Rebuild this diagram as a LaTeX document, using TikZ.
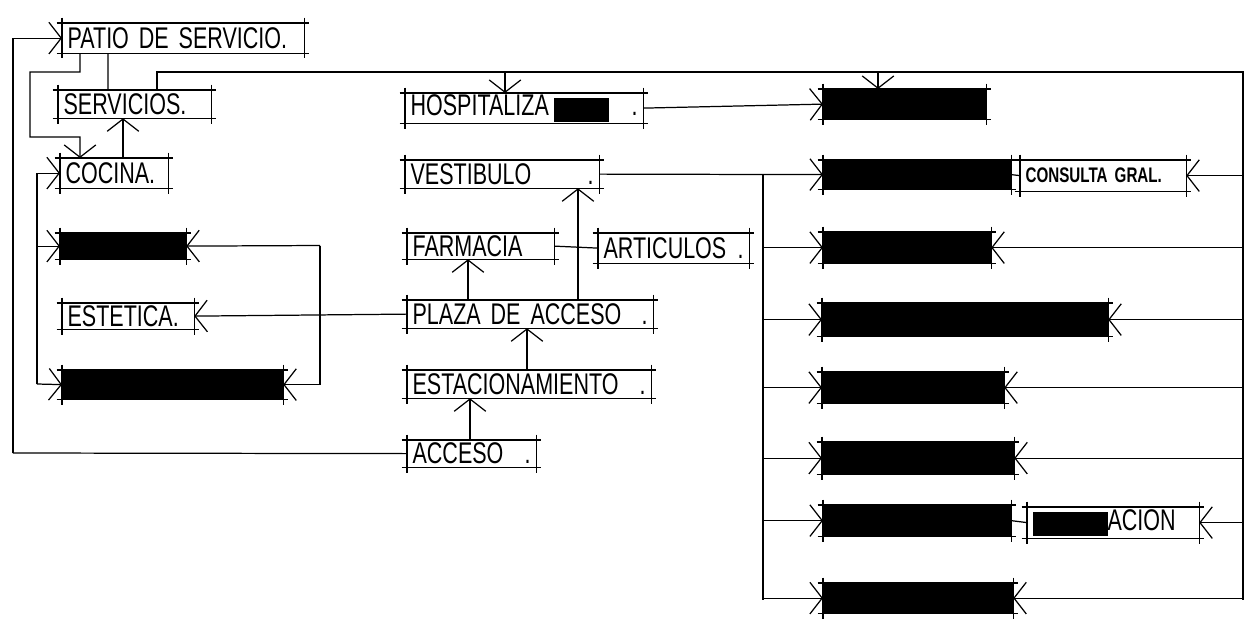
\documentclass[tikz,border=0pt]{standalone}
\usepackage{fontspec}
\newfontfamily\mano[FakeStretch=0.72]{Liberation Sans}
\usetikzlibrary{arrows.meta}

\begin{document}
\begin{tikzpicture}[x=0.02cm,y=-0.02cm,line width=0.7pt,>={Straight Barb[length=7pt,width=18pt]},
  sala/.style={anchor=north west,inner xsep=0.1cm,inner ysep=0pt,align=left,font=\mano\fontsize{17}{17}\selectfont},
  negro/.style={anchor=north west,fill=black,inner sep=0pt}]
\useasboundingbox (0,0) rectangle (1254,626);
\node[sala,text width=4.62cm,minimum height=0.58cm] (patio) at (62,23) {PATIO DE SERVICIO.};
\node[sala,text width=2.84cm,minimum height=0.54cm] (servicios) at (58,90) {SERVICIOS.};
\node[sala,text width=1.94cm,minimum height=0.58cm] (cocina) at (60,158) {COCINA.};
\node[negro,minimum width=2.5cm,minimum height=0.5cm] (izq1) at (60,233) {};
\node[sala,text width=2.42cm,minimum height=0.5cm] (estetica) at (62,303) {ESTETICA.};
\node[negro,minimum width=4.4cm,minimum height=0.56cm] (izq3) at (62,370) {};
\node[sala,text width=4.54cm,minimum height=0.58cm] (hosp) at (405,93) {HOSPITALIZA\,\rule[-0.12cm]{1.1cm}{0.48cm}\hfill.};
\node[sala,text width=3.66cm,minimum height=0.54cm] (vest) at (405,160) {VESTIBULO\hfill.};
\node[sala,text width=2.72cm,minimum height=0.5cm] (farm) at (407,233) {FARMACIA};
\node[sala,text width=2.8cm,minimum height=0.58cm] (art) at (598,233) {ARTICULOS\hfill.};
\node[sala,text width=4.7cm,minimum height=0.54cm] (plaza) at (407,300) {PLAZA DE ACCESO\hfill.};
\node[sala,text width=4.66cm,minimum height=0.54cm] (estac) at (407,370) {ESTACIONAMIENTO\hfill.};
\node[sala,text width=2.36cm,minimum height=0.52cm] (acceso) at (407,440) {ACCESO\hfill.};
\node[negro,minimum width=3.24cm,minimum height=0.58cm] (r1) at (823,89) {};
\node[negro,minimum width=3.74cm,minimum height=0.56cm] (r2) at (823,160) {};
\node[sala,text width=3.1cm,minimum height=0.6cm,font=\mano\bfseries\fontsize{12}{12}\selectfont] (consulta) at (1020,160) {CONSULTA GRAL.};
\node[negro,minimum width=3.34cm,minimum height=0.6cm] (r3) at (823,232) {};
\node[negro,minimum width=5.7cm,minimum height=0.64cm] (r4) at (822,303) {};
\node[negro,minimum width=3.62cm,minimum height=0.6cm] (r5) at (822,372) {};
\node[negro,minimum width=3.82cm,minimum height=0.62cm] (r6) at (822,442) {};
\node[negro,minimum width=3.74cm,minimum height=0.6cm] (r7) at (823,505) {};
\node[sala,text width=3.22cm,minimum height=0.6cm] (orient) at (1027,507) {\rule[-0.12cm]{1.5cm}{0.48cm}ACION};
\node[negro,minimum width=3.78cm,minimum height=0.58cm] (r8) at (823,583) {};
\foreach \n in {patio,servicios,cocina,izq1,estetica,izq3,hosp,vest,farm,art,plaza,estac,acceso,r1,r2,consulta,r3,r4,r5,r6,r7,orient,r8}
  \draw ([xshift=-3pt]\n.north west)--([xshift=3pt]\n.north east) ([xshift=-3pt]\n.south west)--([xshift=3pt]\n.south east)
    ([yshift=3pt]\n.north west)--([yshift=-3pt]\n.south west) ([yshift=3pt]\n.north east)--([yshift=-3pt]\n.south east);
\coordinate (o1) at (13,453);
\coordinate (k1) at (30,72);\coordinate (k2) at (30,137);\coordinate (k3) at (80,137);
\coordinate (t2) at (1243,72);\coordinate (t3) at (1243,600);
\coordinate (m1) at (763,174);\coordinate (m2) at (763,600);
\coordinate (b1) at (37,384);\coordinate (b2) at (320,245.5);
\coordinate (h1) at (505,72);\coordinate (h2) at (878,72);
\coordinate (c2) at ([xshift=1.26cm]cocina.north west);
\coordinate (p1) at ([xshift=1.22cm]plaza.north west);\coordinate (p2) at ([xshift=3.42cm]plaza.north west);
\coordinate (e1) at ([xshift=2.4cm]estac.north west);\coordinate (e2) at ([xshift=1.26cm]acceso.north west);
\draw[->] (o1) |- (patio.west);\draw (o1) -- (acceso.west);
\draw[->] ([xshift=0.36cm]patio.south west) |- (k1) -- (k2) -- (k3) -- ([xshift=0.4cm]cocina.north west);
\draw ([xshift=0.92cm]patio.south west) -- ([xshift=1cm]servicios.north west);
\draw ([xshift=1.98cm]servicios.north west) |- (t2) -- (t3);
\draw[->] (c2) -- (c2 |- servicios.south);
\draw[->] (b1) |- (cocina.west);\draw[->] (b1) -- (izq3.west);\draw[->] (b1 |- izq1.west) -- (izq1.west);
\draw[->] (b2) -- (izq1.east);\draw[->] (b2) |- (izq3.east);\draw[->] (plaza.west) -- (estetica.east);
\draw[->] (h1) -- (h1 |- hosp.north);\draw[->] (h2) -- (h2 |- r1.north);
\draw[->] (hosp.east) -- (r1.west);\draw[->] (vest.east) -- (r2.west);
\draw (r2.east) -- (consulta.west);\draw (r7.east) -- (orient.west);
\draw[->] (p1) -- (p1 |- farm.south);\draw[->] (p2) -- (p2 |- vest.south);\draw (farm.east) -- (art.west);
\draw[->] (e1) -- (e1 |- plaza.south);\draw[->] (e2) -- (e2 |- estac.south);
\draw (m1) -- (m2);
\foreach \n in {r3,r4,r5,r6,r7,r8} \draw[->] (\n.west -| m1) -- (\n.west);
\foreach \n in {consulta,r3,r4,r5,r6,orient,r8} \draw[->] (\n.east -| t2) -- (\n.east);
\end{tikzpicture}
\end{document}
